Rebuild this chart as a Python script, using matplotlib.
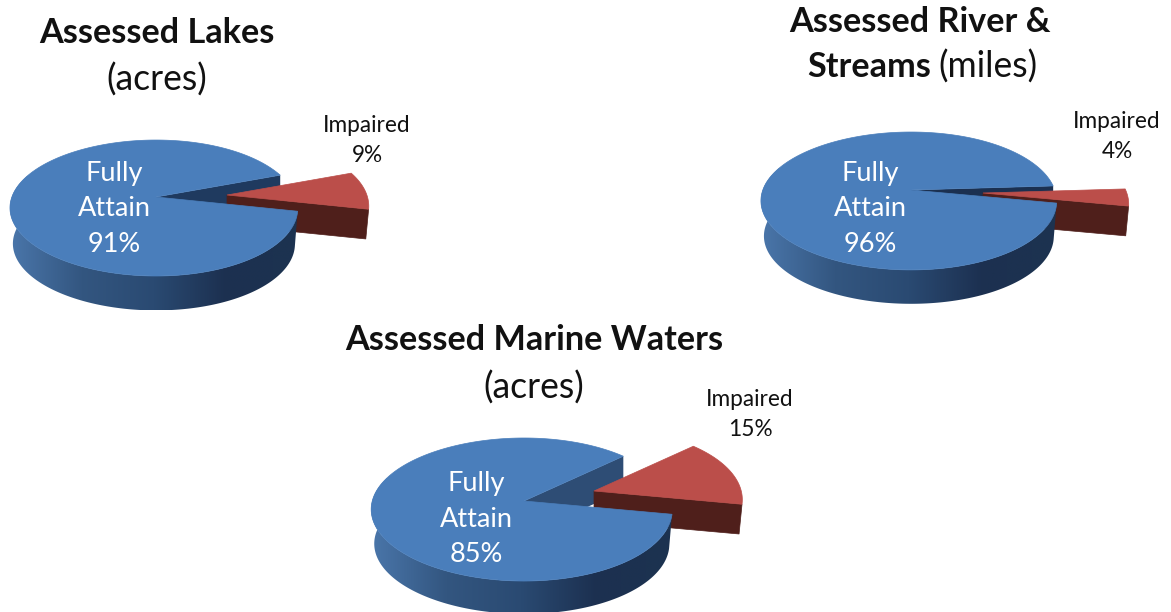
import numpy as np
import matplotlib
matplotlib.use("Agg")
import matplotlib.pyplot as plt
from matplotlib.patches import Polygon
from matplotlib.colors import LinearSegmentedColormap

# Share of assessed waters by attainment status, percent
categories = ["Fully\nAttain", "Impaired"]
lakes = [91, 9]
rivers = [96, 4]
marine = [85, 15]

BLUE_TOP = "#4a7ebb"
RED_TOP = "#bb4e4a"
RED_SIDE = "#4f1f1b"
SIDE_RAMP = LinearSegmentedColormap.from_list(
    "side", ["#4a76aa", "#335680", "#2a4a72", "#1c3050", "#1c3350"])

FONT = "Lato"
SKEW = 0.015      # the right side of each disc sits slightly further away
BASE_SCALE = 0.98 # the underside of a disc appears a little smaller than its top

fig = plt.figure(figsize=(11.71, 6.12), dpi=100)
ax = fig.add_axes([0, 0, 1, 1])
ax.set_axis_off()


class Disc:
    """Tilted pie disc: maps angles on a unit circle to screen pixels in perspective."""

    def __init__(self, x, y, a, b, k, depth):
        self.x, self.y, self.a, self.b, self.k, self.depth = x, y, a, b, k, depth

    def rim(self, deg, r=1.0, shift=(0, 0), lower=False, depth=None):
        t = np.radians(np.atleast_1d(deg))
        X, Y = r * np.cos(t), r * np.sin(t)
        w = 1 + self.k * Y
        s, off = (BASE_SCALE, self.depth if depth is None else depth) if lower else (1.0, 0)
        return np.column_stack([self.x + shift[0] + s * self.b * X * (1 - SKEW * X) / w,
                                self.y + shift[1] + off - s * self.a * Y / w])


def draw_pie(values, disc, start, explode, face_color, red_depth=30):
    sweep = values[1] * 3.6
    end = start - sweep

    # Cut face behind the gap left by the pulled-out slice
    apex = disc.rim(0, r=0)
    corner = disc.rim(start)
    face = np.vstack([apex, corner, corner + [0, disc.depth], apex + [0, disc.depth]])
    ax.add_patch(Polygon(face, fc=face_color, ec="none", zorder=1))

    # Pulled-out slice: near cut face, then its top
    red_apex = disc.rim(0, r=0, shift=explode)
    red_arc = disc.rim(np.linspace(start, end, 60), shift=explode)
    low_arc = disc.rim(np.linspace(start, end, 60), shift=explode, lower=True, depth=red_depth)
    low_apex = disc.rim(0, r=0, shift=explode, lower=True, depth=red_depth)
    ax.add_patch(Polygon(np.vstack([red_apex, red_arc[-1:], low_arc[-1:], low_apex]),
                         fc=RED_SIDE, ec=RED_SIDE, lw=0.5, zorder=2))
    ax.add_patch(Polygon(np.vstack([red_apex, red_arc]), fc=RED_TOP, ec=RED_TOP, lw=0.5, zorder=3))

    # Curved wall of the main slice, shaded left to right
    angles = np.linspace(end, start - 360 + 5, 300)
    angles = angles[angles > -200]
    top = disc.rim(angles)
    bottom = disc.rim(angles, lower=True)
    outline = np.vstack([top, bottom[::-1]])
    x0, x1 = outline[:, 0].min(), outline[:, 0].max()
    y0, y1 = outline[:, 1].min(), outline[:, 1].max()
    img = ax.imshow(np.linspace(0, 1, 256)[None, :], cmap=SIDE_RAMP, vmin=0, vmax=1,
                    extent=[x0, x1, y1, y0], aspect="auto", zorder=4)
    clip = Polygon(outline, transform=ax.transData, fc="none", ec="none")
    ax.add_patch(clip)
    img.set_clip_path(clip)

    # Top of the main slice
    blue_arc = disc.rim(np.linspace(end, start - 360, 360))
    ax.add_patch(Polygon(np.vstack([apex, blue_arc]), fc=BLUE_TOP, ec=BLUE_TOP, lw=0.5, zorder=5))


def pie_labels(values, main_xy, other_xy):
    lines = categories[0].split("\n") + [f"{values[0]}%"]
    for i, line in enumerate(lines):
        ax.text(main_xy[0], main_xy[1] + i * 35.5, line, color="white", fontsize=19.5,
                family=FONT, ha="center", va="center", zorder=6)
    ax.text(other_xy[0], other_xy[1], categories[1], color="#111111", fontsize=16.3,
            family=FONT, ha="center", va="center", zorder=6)
    ax.text(other_xy[0], other_xy[1] + 29.5, f"{values[1]}%", color="#111111", fontsize=16.3,
            family=FONT, ha="center", va="center", zorder=6)


draw_pie(lakes, Disc(156, 197, 66.2, 142, 0.162, 36), 20.4, (71, -2), "#1f3a5f")
draw_pie(rivers, Disc(911, 190, 67.2, 146, 0.159, 35.5), 3.5, (72, 3), "#1b3050")
draw_pie(marine, Disc(524, 501, 70.5, 149.5, 0.119, 34.5), 43.4, (70, -10), "#2e4d75")

pie_labels(lakes, (114, 173), (367, 126))
pie_labels(rivers, (870, 173), (1117, 122))
pie_labels(marine, (476, 484), (750, 400))

BOLD_SIZE = 24.7
REG_SIZE = 25.6
title_kw = dict(color="#111111", family=FONT, va="center", zorder=6)
ax.text(157, 33, "Assessed Lakes", ha="center", fontweight="bold", fontsize=BOLD_SIZE, **title_kw)
ax.text(157, 80, "(acres)", ha="center", fontsize=REG_SIZE, **title_kw)
ax.text(920, 22, "Assessed River &", ha="center", fontweight="bold", fontsize=BOLD_SIZE, **title_kw)
ax.text(931, 67, "Streams", ha="right", fontweight="bold", fontsize=BOLD_SIZE, **title_kw)
ax.text(938, 67, "(miles)", ha="left", fontsize=REG_SIZE, **title_kw)
ax.text(534, 340, "Assessed Marine Waters", ha="center", fontweight="bold", fontsize=BOLD_SIZE, **title_kw)
ax.text(534, 388, "(acres)", ha="center", fontsize=REG_SIZE, **title_kw)

ax.set_xlim(0, 1171)
ax.set_ylim(612, 0)
fig.savefig("out.png", dpi=100, facecolor="white")
